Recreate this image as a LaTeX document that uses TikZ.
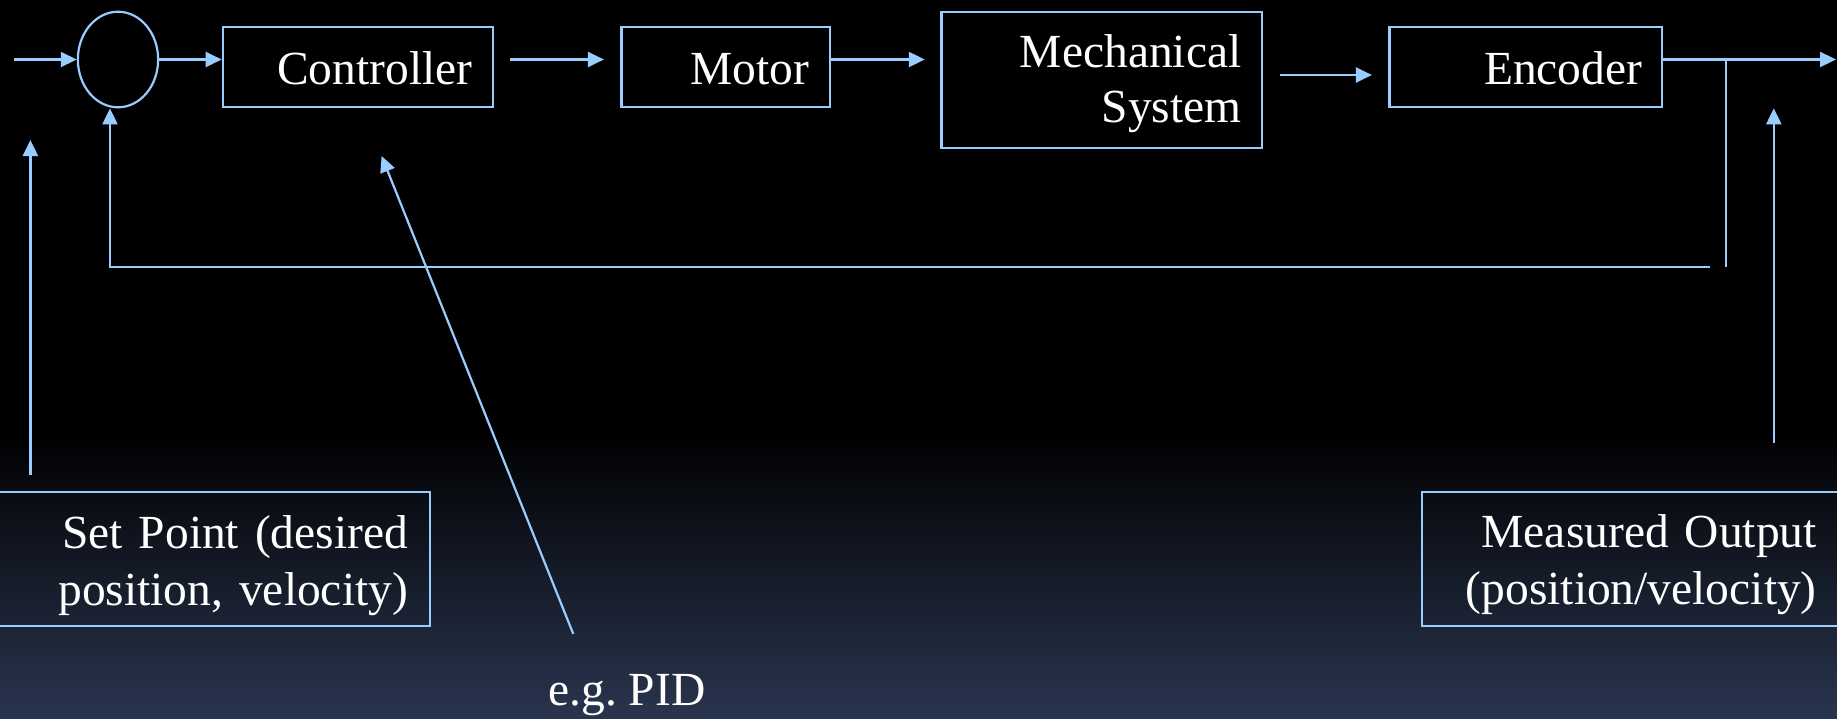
\documentclass[tikz,border=0pt]{standalone}
\usepackage{fontspec}
\setmainfont{Liberation Serif}
\usetikzlibrary{arrows.meta,shapes.geometric,calc}
\definecolor{lineblue}{RGB}{153,204,255}
\definecolor{bgbot}{RGB}{41,53,79}
\begin{document}
\frenchspacing
\begin{tikzpicture}[x=1pt,y=1pt,
  conn/.style={draw=lineblue, line width=2.2pt},
  arr/.style={conn, -{Triangle[length=16pt,width=15pt]}},
  blk/.style={draw=lineblue, line width=2.2pt, rectangle, text=white, align=right, inner ysep=0pt, font=\fontsize{47.5}{57}\selectfont},
  lbl/.style={text=white, font=\fontsize{47.5}{57}\selectfont, inner sep=0pt}
]
% background
\fill[black] (0,0) rectangle (1837,-718);
\shade[top color=black, bottom color=bgbot] (0,-430) rectangle (1837,-718);
\useasboundingbox (0,0) rectangle (1837,-718);

% summing junction and blocks
\node[draw=lineblue, line width=2.2pt, ellipse, minimum width=80.3pt, minimum height=95.6pt, inner sep=0pt] (sum) at (118,-59.5) {};
\node[blk, text width=228.9pt, inner xsep=20.8pt, text height=57pt, text depth=22.4pt] (ctrl) at (358.05,-67) {Controller};
\node[blk, text width=166.7pt, inner xsep=20.9pt, text height=57pt, text depth=22.4pt] (motor) at (725.65,-67) {Motor};
\node[blk, text width=279.5pt, inner xsep=20.5pt, text height=55.6pt, text depth=80.4pt, font=\fontsize{47.5}{55}\selectfont] (mech) at (1101.75,-79.7) {Mechanical\\System};
\node[blk, text width=233pt, inner xsep=19.9pt, text height=57pt, text depth=22.4pt] (enc) at (1525.8,-67) {Encoder};
\node[blk, text width=390.8pt, inner xsep=22pt, text height=57pt, text depth=77.3pt] (sp) at (212.6,-558.85) {Set Point (desired\\position, velocity)};
\node[blk, text width=372.7pt, inner xsep=22pt, text height=56pt, text depth=78.3pt] (mo) at (1630.35,-558.85) {Measured Output\\(position/velocity)};
\node[lbl, anchor=base] (pid) at (627,-705) {e.g. PID};

% free ends
\coordinate (in) at (13.8,-59.5);
\coordinate (out) at (1836,-59.5);
\coordinate (tap) at (1725.8,-59.5);
\coordinate (tapb) at (1725.8,-267.3);
\coordinate (fbe) at (1709.8,-267.3);
\coordinate (fbc) at (110,-267.3);
\coordinate (spa) at (30.4,-475);
\coordinate (spt) at (30.4,-140);
\coordinate (pida) at (573.3,-634);
\coordinate (pidt) at (381.6,-156);
\coordinate (moa) at (1773.8,-443);
\coordinate (mot) at (1773.8,-108.3);

% forward path
\draw[arr] (in) -- (sum.west);
\draw[arr] (sum.east) -- (sum.east -| ctrl.west);
\draw[arr] ($(ctrl.east |- sum.east)+(15.7,0)$) -- ($(motor.west |- sum.east)+(-16.4,0)$);
\draw[arr] (motor.east |- sum.east) -- ($(mech.west |- sum.east)+(-15.6,0)$);
\draw[arr] ($(mech.east)+(16.6,4.7)$) -- ($(enc.west |- mech.east)+(-16.4,4.7)$);
\draw[arr] (enc.east |- sum.east) -- (out);

% feedback
\draw[conn] (tap) -- (tapb);
\draw[arr] (fbe) -- (fbc) -- (fbc |- sum.south);

% annotation arrows
\draw[arr] (spa) -- (spt);
\draw[arr] (pida) -- (pidt);
\draw[arr] (moa) -- (mot);
\end{tikzpicture}
\end{document}
